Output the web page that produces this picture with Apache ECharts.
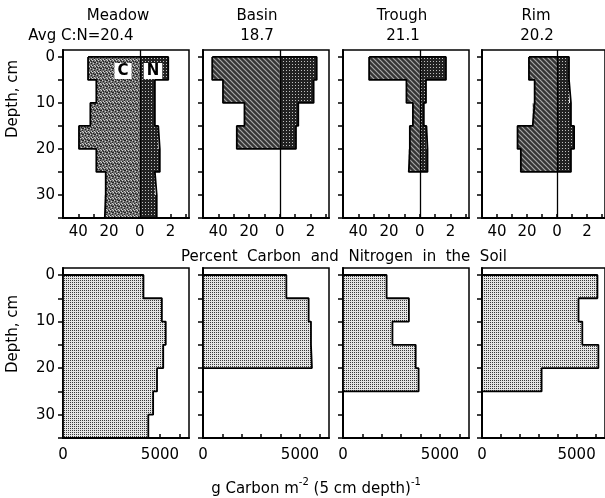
<!DOCTYPE html>
<html>
<head>
<meta charset="utf-8">
<script src="https://cdn.jsdelivr.net/npm/echarts@6/dist/echarts.min.js"></script>
<style>html,body{margin:0;padding:0;background:#fff;}#c{width:605px;height:498px;}</style>
</head>
<body>
<div id="c"></div>
<script>
// ---------- data ----------
const sites = ['Meadow', 'Basin', 'Trough', 'Rim'];
const ratioLabels = ['Avg C:N=20.4', '18.7', '21.1', '20.2'];
const layerTops = [0, 5, 10, 15, 20, 25, 30];   // cm, each layer 5 cm thick
const layerThickness = 5;

// percent carbon (plotted to the left) and percent nitrogen (to the right)
const meadowC = [33.7, 28.3, 32.2, 39.6, 28.3, 22.2, 22.8];
const meadowN = [1.85, 0.98, 0.98, 1.2, 1.3, 0.98, 1.1];
const basinC  = [44, 37, 23, 28];
const basinN  = [2.4, 2.2, 1.2, 1.05];
const troughC = [33, 8.7, 4.5, 6.5, 7.2];
const troughN = [1.7, 0.4, 0.26, 0.43, 0.5];
const rimC    = [18.7, 14.9, 16.2, 26.3, 24.1];
const rimN    = [0.8, 0.8, 0.93, 1.14, 0.93];

// g carbon m^-2 per 5 cm layer
const meadowG = [4150, 5100, 5300, 5170, 4850, 4650, 4400];
const basinG  = [4300, 5450, 5570, 5620];
const troughG = [2250, 3400, 2550, 3750, 3900];
const rimG    = [6100, 5100, 5300, 6150, 3150];

const depthTicks = [0, 5, 10, 15, 20, 25, 30, 35];
const depthLabels = [0, 10, 20, 30];
const pctTicks = [-50, -40, -30, -20, -10, 0, 10, 20, 30];
const pctLabels = [-40, -20, 0, 20];   // 40, 20 (%C) | 0 | 2 (%N)
const nScale = 10;                     // 1 % N drawn as 10 % C units
const massTicks = [0, 1000, 2000, 3000, 4000, 5000, 6000];
const massLabels = [0, 5000];

const carbonPct = [meadowC, basinC, troughC, rimC];
const nitrogenPct = [meadowN, basinN, troughN, rimN];
const carbonMass = [meadowG, basinG, troughG, rimG];

// ---------- patterns ----------
function makePattern(kind) {
  const c = document.createElement('canvas');
  let s;
  const ctx = () => c.getContext('2d');
  if (kind === 'hatch') {
    s = 5; c.width = s; c.height = s; const g = ctx();
    g.fillStyle = '#353535'; g.fillRect(0, 0, s, s);
    g.strokeStyle = '#a8a8a8'; g.lineWidth = 1.2;
    g.beginPath(); g.moveTo(-1, -1); g.lineTo(s + 1, s + 1);
    g.moveTo(-1, s - 1); g.lineTo(1, s + 1);
    g.moveTo(s - 1, -1); g.lineTo(s + 1, 1); g.stroke();
  } else if (kind === 'mottle') {
    s = 6; c.width = s; c.height = s; const g = ctx();
    g.fillStyle = '#707070'; g.fillRect(0, 0, s, s);
    g.fillStyle = '#222';
    [[0,0],[3,1],[1,3],[4,4],[5,2],[2,5],[1,1],[4,2]].forEach(p => g.fillRect(p[0], p[1], 1, 1));
    g.fillStyle = '#d0d0d0';
    [[2,0],[5,0],[0,2],[3,3],[1,5],[4,5]].forEach(p => g.fillRect(p[0], p[1], 1, 1));
  } else if (kind === 'darkdots') {
    s = 3; c.width = s; c.height = s; const g = ctx();
    g.fillStyle = '#222'; g.fillRect(0, 0, s, s);
    g.fillStyle = '#c0c0c0'; g.fillRect(1, 1, 1, 1);
  } else {
    s = 2; c.width = s; c.height = s; const g = ctx();
    g.fillStyle = '#e4e4e4'; g.fillRect(0, 0, s, s);
    g.fillStyle = '#3a3a3a'; g.fillRect(0, 0, 1, 1);
  }
  return { image: c, repeat: 'repeat' };
}
const patHatch = makePattern('hatch');
const patMottle = makePattern('mottle');
const patN = makePattern('darkdots');
const patMass = makePattern('light');

// ---------- layout ----------
const lefts = [63, 203, 343, 482];
const panelW = 126;
const FONT = 'DejaVu Sans';

const grids = [], xAxes = [], yAxes = [], series = [];

function rectRender(fill) {
  return function (params, api) {
    const a = api.coord([api.value(0), api.value(2)]);
    const b = api.coord([api.value(1), api.value(3)]);
    return {
      type: 'rect',
      shape: { x: Math.min(a[0], b[0]), y: Math.min(a[1], b[1]),
               width: Math.abs(b[0] - a[0]), height: Math.abs(b[1] - a[1]) },
      style: { fill: fill }
    };
  };
}

function yAxisFor(gi, showLabels) {
  return {
    type: 'value', gridIndex: gi, inverse: true, min: -1.5, max: 35,
    axisLine: { show: true, onZero: false, lineStyle: { color: '#000', width: 2 } },
    axisTick: { show: true, inside: false, length: 5, customValues: depthTicks,
                lineStyle: { color: '#000', width: 1.5 } },
    axisLabel: { show: showLabels, customValues: depthLabels, fontSize: 15, fontFamily: FONT,
                 color: '#000', margin: 8, formatter: v => String(v) },
    splitLine: { show: false }
  };
}

for (let i = 0; i < 4; i++) {
  // ---- top panels: % C and % N ----
  const gi = grids.length;
  grids.push({ left: lefts[i], top: 50, width: panelW, height: 168, show: true,
               borderColor: '#000', borderWidth: 1.5, backgroundColor: 'transparent' });
  xAxes.push({
    type: 'value', gridIndex: gi, min: -50, max: 32,
    axisLine: { show: true, onZero: false, lineStyle: { color: '#000', width: 2 } },
    axisTick: { show: true, inside: true, length: 4, customValues: pctTicks,
                lineStyle: { color: '#000', width: 1.5 } },
    axisLabel: { customValues: pctLabels, fontSize: 15, fontFamily: FONT, color: '#000', margin: 7,
                 formatter: v => v < 0 ? String(-v) : String(v / nScale) },
    splitLine: { show: false }
  });
  yAxes.push(yAxisFor(gi, i === 0));

  const C = carbonPct[i], N = nitrogenPct[i], n = C.length;
  const cData = C.map((v, k) => [-v, 0, layerTops[k], layerTops[k] + layerThickness]);
  const nData = N.map((v, k) => [0, v * nScale, layerTops[k], layerTops[k] + layerThickness]);
  series.push({ type: 'custom', xAxisIndex: gi, yAxisIndex: gi, z: 2, silent: true,
                renderItem: rectRender(i === 0 ? patMottle : patHatch),
                encode: { x: [0, 1], y: [2, 3] }, data: cData });
  series.push({ type: 'custom', xAxisIndex: gi, yAxisIndex: gi, z: 2, silent: true,
                renderItem: rectRender(patN),
                encode: { x: [0, 1], y: [2, 3] }, data: nData });
  // outline of the combined C | N profile
  const outline = [];
  for (let k = 0; k < n; k++) {
    outline.push([-C[k], layerTops[k]]);
    outline.push([-C[k], layerTops[k] + layerThickness]);
  }
  for (let k = n - 1; k >= 0; k--) {
    outline.push([N[k] * nScale, layerTops[k] + layerThickness]);
    outline.push([N[k] * nScale, layerTops[k]]);
  }
  outline.push([-C[0], 0]);
  series.push({ type: 'line', xAxisIndex: gi, yAxisIndex: gi, z: 3, silent: true,
                data: outline, symbol: 'none', animation: false,
                lineStyle: { color: '#000', width: 1.8 },
                markLine: { silent: true, symbol: 'none', animation: false, label: { show: false },
                            lineStyle: { color: '#000', width: 1.3, type: 'solid' },
                            data: [{ xAxis: 0 }] } });
}

for (let i = 0; i < 4; i++) {
  // ---- bottom panels: g C per m^2 per 5 cm ----
  const gi = grids.length;
  grids.push({ left: lefts[i], top: 268, width: panelW, height: 170, show: true,
               borderColor: '#000', borderWidth: 1.5, backgroundColor: 'transparent' });
  xAxes.push({
    type: 'value', gridIndex: gi, min: 0, max: 6500,
    axisLine: { show: true, onZero: false, lineStyle: { color: '#000', width: 2 } },
    axisTick: { show: true, inside: true, length: 4, customValues: massTicks,
                lineStyle: { color: '#000', width: 1.5 } },
    axisLabel: { customValues: massLabels, fontSize: 15, fontFamily: FONT, color: '#000', margin: 10,
                 formatter: v => String(v) },
    splitLine: { show: false }
  });
  yAxes.push(yAxisFor(gi, i === 0));

  const G = carbonMass[i], n = G.length;
  const gData = G.map((v, k) => [0, v, layerTops[k], layerTops[k] + layerThickness]);
  series.push({ type: 'custom', xAxisIndex: gi, yAxisIndex: gi, z: 2, silent: true,
                renderItem: rectRender(patMass),
                encode: { x: [0, 1], y: [2, 3] }, data: gData });
  const outline = [[0, 0]];
  for (let k = 0; k < n; k++) {
    outline.push([G[k], layerTops[k]]);
    outline.push([G[k], layerTops[k] + layerThickness]);
  }
  outline.push([0, layerTops[n - 1] + layerThickness]);
  outline.push([0, 0]);
  series.push({ type: 'line', xAxisIndex: gi, yAxisIndex: gi, z: 3, silent: true,
                data: outline, symbol: 'none', animation: false,
                lineStyle: { color: '#000', width: 1.8 } });
}

// ---------- texts ----------
const titleX = [118, 257, 402, 536];
const ratioX = [81, 257, 403, 537];
const graphics = [];
for (let i = 0; i < 4; i++) {
  graphics.push({ type: 'text', x: titleX[i], y: 16, style: { text: sites[i], font: '15px ' + FONT,
                  fill: '#000', align: 'center', verticalAlign: 'middle' } });
  graphics.push({ type: 'text', x: ratioX[i], y: 36, style: { text: ratioLabels[i], font: '15px ' + FONT,
                  fill: '#000', align: 'center', verticalAlign: 'middle' } });
}
graphics.push({ type: 'text', x: 13, y: 99, rotation: Math.PI / 2,
                style: { text: 'Depth, cm', font: '15px ' + FONT, fill: '#000', align: 'center', verticalAlign: 'middle' } });
graphics.push({ type: 'text', x: 13, y: 334, rotation: Math.PI / 2,
                style: { text: 'Depth, cm', font: '15px ' + FONT, fill: '#000', align: 'center', verticalAlign: 'middle' } });
graphics.push({ type: 'text', x: 344, y: 257, z: 10,
                style: { text: 'Percent  Carbon  and  Nitrogen  in  the  Soil', font: '15px ' + FONT,
                         fill: '#000', align: 'center', verticalAlign: 'middle' } });
graphics.push({ type: 'text', x: 316, y: 487,
                style: { text: '{n|g Carbon m}{s|-2}{n| (5 cm depth)}{s|-1}', align: 'center', verticalAlign: 'middle',
                         rich: { n: { fontSize: 15, fontFamily: FONT, fill: '#000', lineHeight: 20, verticalAlign: 'bottom' },
                                 s: { fontSize: 10, fontFamily: FONT, fill: '#000', lineHeight: 20, verticalAlign: 'top' } } } });
graphics.push({ type: 'text', x: 123, y: 71, z: 10,
                style: { text: 'C', font: 'bold 15px ' + FONT, fill: '#000', align: 'center', verticalAlign: 'middle',
                         backgroundColor: '#fff', padding: [1, 3, 0, 3] } });
graphics.push({ type: 'text', x: 153, y: 71, z: 10,
                style: { text: 'N', font: 'bold 15px ' + FONT, fill: '#000', align: 'center', verticalAlign: 'middle',
                         backgroundColor: '#fff', padding: [1, 3, 0, 3] } });

const chart = echarts.init(document.getElementById('c'), null, { renderer: 'canvas' });
chart.setOption({
  animation: false,
  backgroundColor: '#fff',
  grid: grids, xAxis: xAxes, yAxis: yAxes, series: series,
  graphic: { elements: graphics }
});
</script>
</body>
</html>
